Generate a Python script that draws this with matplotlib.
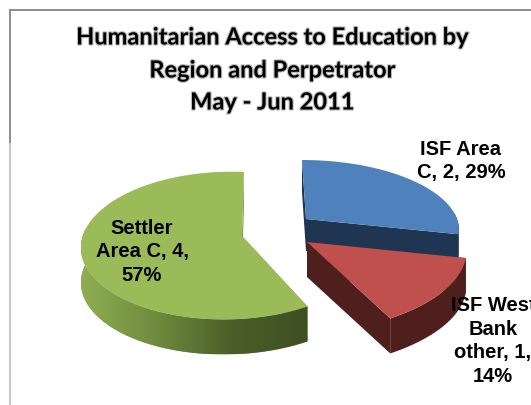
import numpy as np
import matplotlib.pyplot as plt
import matplotlib.patheffects as pe
from matplotlib.colors import LinearSegmentedColormap
from matplotlib.patches import Polygon

# slices in drawing order of the pie, clockwise from 12 o'clock
categories = ["ISF Area C", "ISF West Bank other", "Settler Area C"]
values = [2, 1, 4]

title_lines = ["Humanitarian Access to Education by", "Region and Perpetrator", "May - Jun 2011"]
labels = ["ISF Area\nC, 2, 29%", "ISF West\nBank\nother, 1,\n14%", "Settler\nArea C, 4,\n57%"]

# apex x, apex y, rx, ry, persp front/back, persp left/right, shear, depth
geom = [
    (306, 220, 151, 66.6, 0.129, 0.0, -0.068, 32),
    (307, 243, 182, 80.5, 0.129, 0.15, 0.0, 35),
    (242, 237, 144, 72.3, 0.129, 0.0956, 0.03, 35),
]
top_colors = ["#4F81BD", "#C0504D", "#9BBB59"]
wall_colors = ["#1F3552", "#4F1F1E", "#7A9446"]


def project(g, theta):
    ax_, ay_, rx, ry, k, j, s, depth = g
    X = np.sin(theta)
    Y = np.cos(theta)
    d = 1 + k * Y + j * X
    up = ry * Y / d
    return ax_ + rx * X / d + s * up, ay_ - up


fig = plt.figure(figsize=(5.31, 4.06), dpi=100)
ax = fig.add_axes([0, 0, 1, 1])
ax.set_xlim(0, 531)
ax.set_ylim(406, 0)
ax.axis("off")

# chart frame, it runs off the picture on the right and gets lighter on the left
ax.plot([9.5, 9.5, 531], [145, 11, 11], color="#8C8C8C", lw=1.4, solid_joinstyle="miter")
ax.plot([9.5, 9.5], [145, 406], color="#C8C8C8", lw=1.4)

fracs = np.cumsum([0] + values) / sum(values) * 2 * np.pi


def rim(i, n=120):
    t = np.linspace(fracs[i], fracs[i + 1], n)
    return project(geom[i], t)


def wall_quad(x1, y1, x2, y2, depth):
    return [(x1, y1), (x2, y2), (x2, y2 + depth), (x1, y1 + depth)]


def draw_slice(i, z):
    g = geom[i]
    depth = g[7]
    x, y = rim(i)
    # straight cut walls
    for (ex, ey) in [(x[0], y[0]), (x[-1], y[-1])]:
        ax.add_patch(Polygon(wall_quad(g[0], g[1], ex, ey, depth), closed=True,
                             fc=wall_colors[i], ec="none", zorder=z))
    # outer wall on the part of the rim that faces the viewer
    front = np.cos(np.linspace(fracs[i], fracs[i + 1], len(x))) < 0.1
    fx, fy = x[front], y[front]
    if len(fx) > 1:
        pts = np.column_stack([np.r_[fx, fx[::-1]], np.r_[fy, fy[::-1] + depth]])
        wall = Polygon(pts, closed=True, fc=wall_colors[i], ec="none", zorder=z + 0.1)
        ax.add_patch(wall)
        if i == 2:
            # green wall fades from light on the left to dark on the right
            cmap = LinearSegmentedColormap.from_list("w", ["#8FAE52", "#6F8A3E", "#4A5F2A", "#3E4F22"])
            im = ax.imshow(np.linspace(0, 1, 256).reshape(1, -1), cmap=cmap, aspect="auto",
                           extent=[fx.min(), fx.max(), fy.max() + depth, fy.min()], zorder=z + 0.2)
            im.set_clip_path(wall)
    top = np.column_stack([np.r_[g[0], x], np.r_[g[1], y]])
    ax.add_patch(Polygon(top, closed=True, fc=top_colors[i], ec="none", zorder=z + 0.3))


for i, z in zip([2, 0, 1], [2, 3, 4]):
    draw_slice(i, z)
ax.set_xlim(0, 531)
ax.set_ylim(406, 0)

for line, yy in zip(title_lines, [38, 71, 103]):
    ax.text(272.5, yy, line, family="Lato", weight="bold", fontsize=17, color="black", ha="center",
            va="center", zorder=6,
            path_effects=[pe.withStroke(linewidth=1.6, foreground="#BBBBBB")])

label_pos = [(461, 161), (493, 341), (142, 252)]
for text, (lx, ly) in zip(labels, label_pos):
    ax.text(lx, ly, text, family="Liberation Sans", weight="bold", fontsize=14.5, color="black",
            ha="center", va="center", linespacing=1.3, zorder=7)

fig.savefig("out.png", dpi=100)
